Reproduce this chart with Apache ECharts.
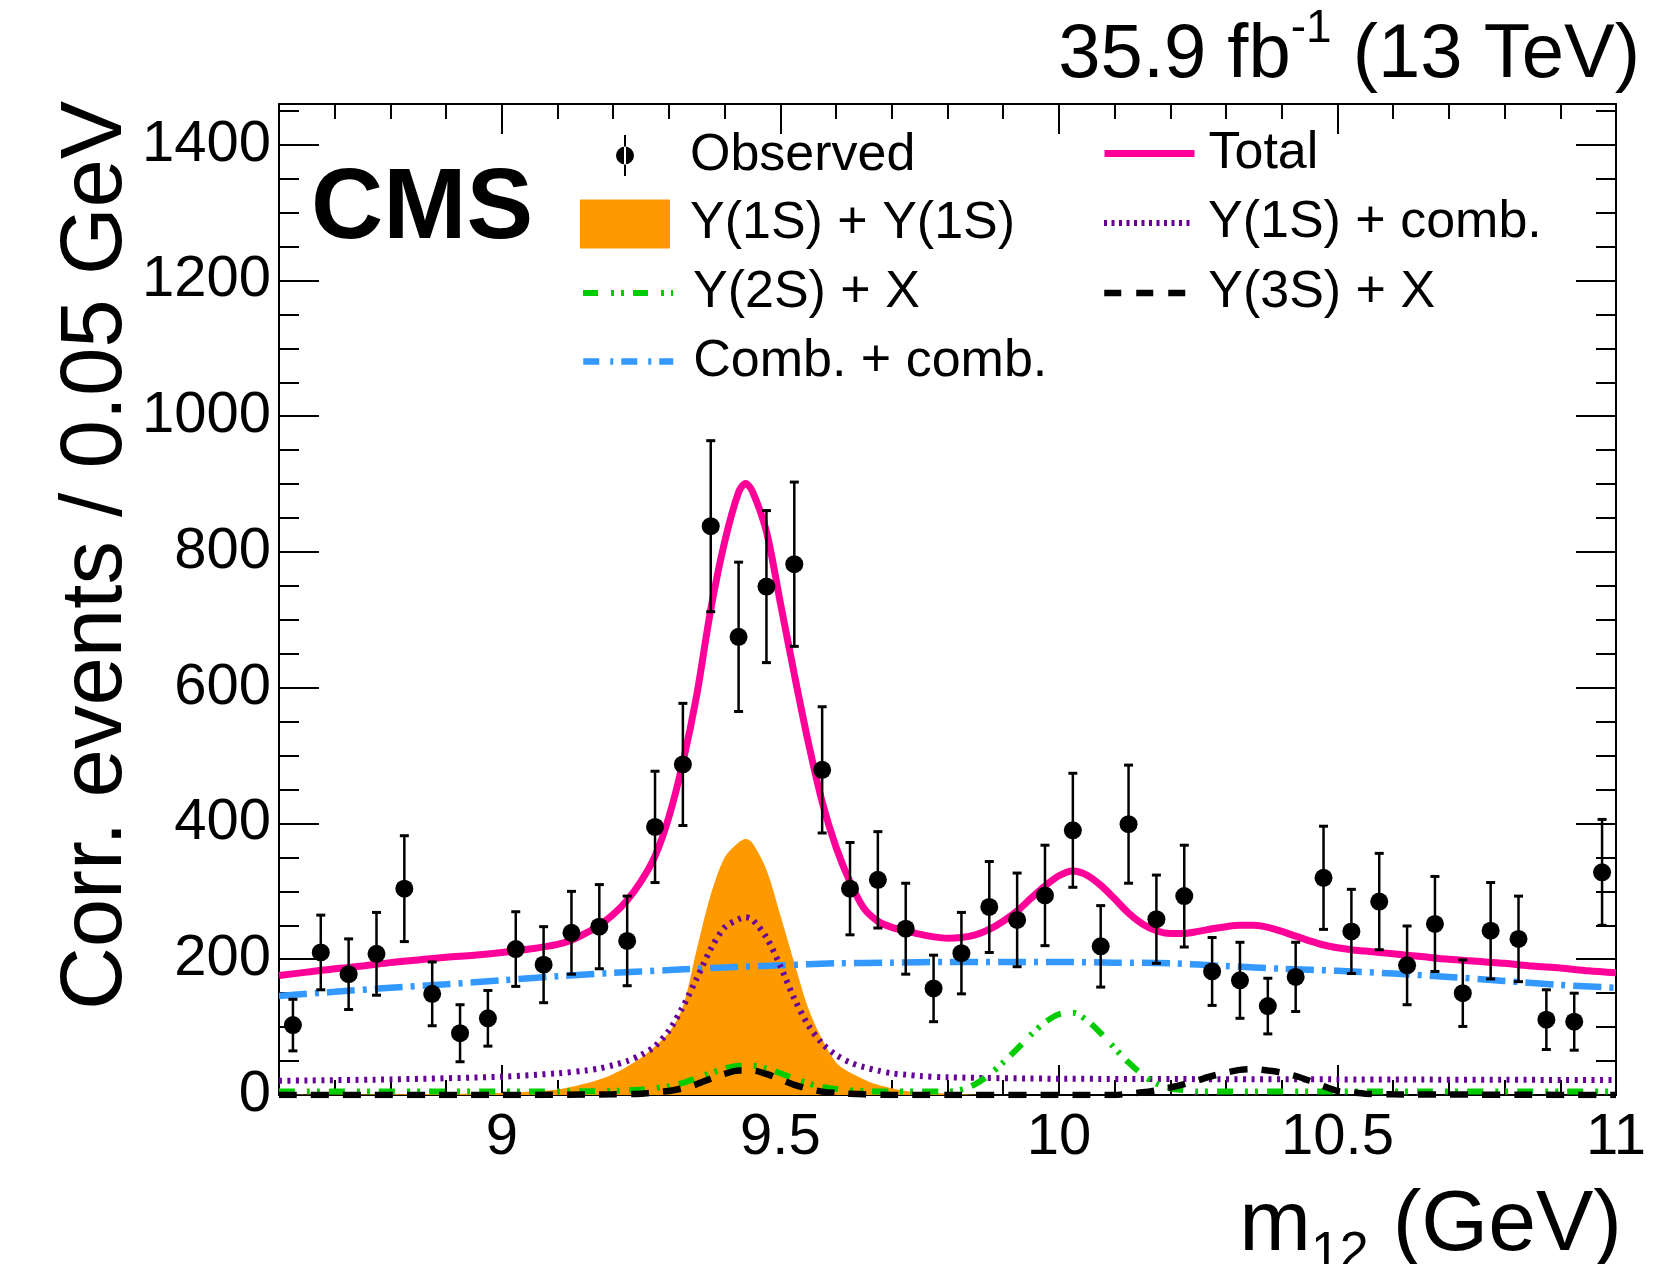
<!DOCTYPE html>
<html>
<head>
<meta charset="utf-8">
<script src="https://cdn.jsdelivr.net/npm/echarts@6/dist/echarts.min.js"></script>
<style>html,body{margin:0;padding:0;background:#fff}#c{width:1676px;height:1264px}</style>
</head>
<body>
<div id="c"></div>
<script>
// ---- data ----
const massBins = [8.625,8.675,8.725,8.775,8.825,8.875,8.925,8.975,9.025,9.075,9.125,9.175,9.225,9.275,9.325,9.375,9.425,9.475,9.525,9.575,9.625,9.675,9.725,9.775,9.825,9.875,9.925,9.975,10.025,10.075,10.125,10.175,10.225,10.275,10.325,10.375,10.425,10.475,10.525,10.575,10.625,10.675,10.725,10.775,10.825,10.875,10.925,10.975];
const observed = [103,210,178,208,304,149,91,113,215,192,239,248,227,395,487,838,675,749,782,479,304,317,245,157,209,277,258,294,390,219,399,259,293,182,169,131,174,320,241,285,191,252,150,242,230,111,108,328];
const observedErr = [38,55,52,61,78,47,42,41,55,56,61,62,66,82,90,126,110,112,121,93,68,71,67,49,60,67,69,74,84,60,87,65,75,50,56,41,51,76,62,71,58,70,49,71,63,44,42,78];

const totalX = [8.60,8.65,8.70,8.75,8.80,8.85,8.90,8.95,9.00,9.05,9.10,9.125,9.15,9.175,9.20,9.225,9.25,9.275,9.30,9.325,9.35,9.375,9.40,9.425,9.4375,9.45,9.475,9.50,9.525,9.55,9.575,9.60,9.625,9.65,9.675,9.70,9.725,9.75,9.775,9.80,9.825,9.85,9.875,9.90,9.925,9.95,9.975,10.00,10.025,10.05,10.075,10.10,10.125,10.15,10.175,10.20,10.225,10.25,10.275,10.30,10.325,10.35,10.375,10.40,10.425,10.45,10.475,10.50,10.525,10.55,10.575,10.60,10.65,10.70,10.75,10.80,10.85,10.90,10.95,11.00];
const totalY = [176,181,186,190,195,199,203,206,210,215,222,228,238,250,266,287,315,352,410,490,590,715,815,888,901,889,830,725,620,520,432,365,314,275,256,247,242,237,233,231,232,236,244,256,271,290,308,323,330,324,309,289,268,252,242,238,238,241,245,248,250,250,247,241,234,227,221,217,214,212,210,208,204,200,197,194,190,187,183,180];

const combX = [8.6,8.7,8.8,8.9,9.0,9.1,9.2,9.3,9.4,9.5,9.6,9.7,9.8,9.9,10.0,10.1,10.2,10.3,10.4,10.5,10.6,10.7,10.8,10.9,11.0];
const combY = [146,152,158,163,169,175,180,184,188,191,194,195,196,196,196,195,194,190,186,183,179,174,168,162,158];

const y1sCombX = [8.6,8.8,9.0,9.1,9.15,9.175,9.20,9.225,9.25,9.275,9.30,9.325,9.35,9.375,9.40,9.425,9.4375,9.45,9.475,9.50,9.525,9.55,9.575,9.60,9.625,9.65,9.675,9.70,9.725,9.75,9.80,10.0,10.5,11.0];
const y1sCombY = [21,23,27,32,36,39,44,50,59,72,95,130,172,215,247,259,262,258,232,190,142,103,76,59,48,41,36,32,30,28,26,24,23,22];

const y1sY1sX = [8.6,8.8,9.0,9.05,9.10,9.125,9.15,9.175,9.20,9.225,9.25,9.275,9.30,9.325,9.35,9.375,9.40,9.425,9.4375,9.45,9.475,9.50,9.525,9.55,9.575,9.60,9.625,9.65,9.675,9.70,9.725,9.75,9.80,9.9,11.0];
const y1sY1sY = [0,1,3,5,8,12,17,23,31,42,55,72,92,130,215,295,350,372,377,371,332,265,195,128,82,48,33,23,15,10,6,4,2,0,0];

const y2sX = [8.6,9.0,9.2,9.25,9.275,9.30,9.325,9.35,9.375,9.40,9.425,9.45,9.475,9.50,9.525,9.55,9.575,9.60,9.625,9.65,9.70,9.80,9.825,9.85,9.875,9.90,9.925,9.95,9.975,10.00,10.025,10.05,10.075,10.10,10.125,10.15,10.175,10.20,10.225,10.25,10.5,11.0];
const y2sY = [5,5,6,8,10,13,18,25,32,39,43,43,39,32,24,17,12,9,7,6,5,5,8,16,30,48,68,89,107,119,121,110,91,69,48,30,17,10,7,5,5,5];

const y3sX = [8.6,9.0,9.2,9.25,9.275,9.30,9.325,9.35,9.375,9.40,9.425,9.45,9.475,9.50,9.525,9.55,9.575,9.60,9.65,9.70,10.10,10.125,10.15,10.175,10.20,10.225,10.25,10.275,10.30,10.325,10.35,10.375,10.40,10.425,10.45,10.475,10.50,10.525,10.55,10.60,11.0];
const y3sY = [0,0,1,2,4,6,10,16,24,31,36,36,31,23,15,9,5,3,1,0,0,2,4,7,11,16,22,28,33,37,38,36,33,28,21,13,6,4,2,1,0];

const xMajorTicks = [9, 9.5, 10, 10.5, 11];
const yMajorTicks = [0, 200, 400, 600, 800, 1000, 1200, 1400];

const FONT = '"Liberation Sans", Arial, Helvetica, sans-serif';
const zip = (a, b) => a.map((v, i) => [v, b[i]]);

const chart = echarts.init(document.getElementById('c'), null, {renderer: 'canvas'});

const X_MIN = 8.6, X_MAX = 11, Y_MIN = 0, Y_MAX = 1460;

function xAxis(pos, major, labels) {
  const ax = {
    type: 'value', position: pos, min: X_MIN, max: X_MAX,
    splitLine: {show: false},
    axisLine: {show: major, onZero: false, lineStyle: {color: '#000', width: 2}},
    axisTick: {show: true, inside: true, length: major ? 30 : 15, lineStyle: {color: '#000', width: 2}},
    axisLabel: {show: labels, fontSize: 58, color: '#000', fontFamily: FONT, margin: 14, formatter: v => String(v)}
  };
  if (major) {
    ax.axisTick.customValues = xMajorTicks;
    ax.axisLabel.customValues = xMajorTicks;
  } else {
    ax.interval = 0.1;
  }
  return ax;
}
function yAxis(pos, major, labels) {
  const ax = {
    type: 'value', position: pos, min: Y_MIN, max: Y_MAX,
    splitLine: {show: false},
    axisLine: {show: major, onZero: false, lineStyle: {color: '#000', width: 2}},
    axisTick: {show: true, inside: true, length: major ? 40 : 20, lineStyle: {color: '#000', width: 2}},
    axisLabel: {show: labels, fontSize: 58, color: '#000', fontFamily: FONT, margin: 8, formatter: v => String(v)}
  };
  if (major) {
    ax.axisTick.customValues = yMajorTicks;
    ax.axisLabel.customValues = yMajorTicks;
  } else {
    ax.interval = 50;
  }
  return ax;
}

function legendItem(name, left, top, h, pad, icon, dash, extra) {
  const d = {name: name};
  if (icon) d.icon = icon;
  const lg = {
    data: [d], left: left, top: top, orient: 'horizontal',
    itemWidth: 90, itemHeight: h, padding: 0, selectedMode: false,
    lineStyle: {width: 'inherit', type: dash || 'inherit'},
    itemStyle: icon ? {} : {opacity: 0},
    textStyle: {fontSize: 52, color: '#000', fontFamily: FONT, padding: [0, 0, 0, pad]}
  };
  return Object.assign(lg, extra || {});
}

const obsIcon = 'path://M0,20.5h0.01v0.01h-0.01z M89.99,20.5h0.01v0.01h-0.01z M44,0h2v41h-2z M36,20.5a9,9 0 1,0 18,0a9,9 0 1,0 -18,0z';

const option = {
  animation: false,
  backgroundColor: '#fff',
  grid: {left: 279, right: 60, top: 104, bottom: 169, containLabel: false},
  xAxis: [xAxis('bottom', true, true), xAxis('bottom', false, false), xAxis('top', true, false), xAxis('top', false, false)],
  yAxis: [yAxis('left', true, true), yAxis('left', false, false), yAxis('right', true, false), yAxis('right', false, false)],
  legend: [
    legendItem('Observed', 580, 129.5, 41, 15, obsIcon, null, {symbolKeepAspect: false}),
    legendItem('Y(1S) + Y(1S)', 580, 198, 49, 15, 'rect'),
    legendItem('Y(2S) + X', 580, 267, 49, 15, null, [15, 13, 3, 7, 3, 9]),
    legendItem('Comb. + comb.', 580, 335.5, 49, 15, null, [16, 11, 3, 8]),
    legendItem('Total', 1101, 127.5, 49, 9),
    legendItem('Y(1S) + comb.', 1101, 197, 49, 9, null, [3, 4.5]),
    legendItem('Y(3S) + X', 1101, 267, 49, 9, null, [17, 15])
  ],
  graphic: [
    {type: 'text', x: 311, y: 210, style: {text: 'CMS', font: 'bold 100px ' + FONT, fill: '#000', textAlign: 'left', textVerticalAlign: 'middle'}},
    {type: 'text', x: 1640, y: 6, style: {
      text: '{a|35.9 fb}{s|-1}{a| (13 TeV)}', textAlign: 'right', textVerticalAlign: 'top',
      rich: {a: {fontSize: 76, lineHeight: 100, fontFamily: FONT, color: '#000'},
             s: {fontSize: 46, lineHeight: 46, fontFamily: FONT, verticalAlign: 'top', color: '#000'}}}},
    {type: 'text', x: 1622, y: 1226, style: {
      text: '{a|m}{b|12}{a| (GeV)}', textAlign: 'right', textVerticalAlign: 'middle',
      rich: {a: {fontSize: 86, lineHeight: 100, fontFamily: FONT, color: '#000'},
             b: {fontSize: 52, lineHeight: 52, fontFamily: FONT, verticalAlign: 'top', color: '#000', padding: [52, 0, 0, 0]}}}},
    {type: 'text', x: 97, y: 101, rotation: Math.PI / 2, style: {
      text: 'Corr. events / 0.05 GeV', font: '87px ' + FONT, fill: '#000', textAlign: 'right', textVerticalAlign: 'middle'}}
  ],
  series: [
    {name: 'Y(1S) + Y(1S)', type: 'line', data: zip(y1sY1sX, y1sY1sY), smooth: 0.3, symbol: 'none',
     color: '#ff9900', lineStyle: {width: 0, color: '#ff9900'}, areaStyle: {color: '#ff9900', opacity: 1}, z: 1},
    {name: 'Comb. + comb.', type: 'line', data: zip(combX, combY), smooth: 0.3, symbol: 'none',
     color: '#3399ff', lineStyle: {width: 6.5, color: '#3399ff', type: [28, 8, 4, 8]}, z: 2},
    {name: 'Y(1S) + comb.', type: 'line', data: zip(y1sCombX, y1sCombY), smooth: 0.3, symbol: 'none',
     color: '#660099', lineStyle: {width: 6, color: '#660099', type: [3, 5.5]}, z: 3},
    {name: 'Y(2S) + X', type: 'line', data: zip(y2sX, y2sY), smooth: 0.3, symbol: 'none',
     color: '#00cc00', lineStyle: {width: 6, color: '#00cc00', type: [16, 12, 3, 7, 3, 9]}, z: 4},
    {name: 'Y(3S) + X', type: 'line', data: zip(y3sX, y3sY), smooth: 0.3, symbol: 'none',
     color: '#000000', lineStyle: {width: 6.5, color: '#000000', type: [18, 14]}, z: 5},
    {name: 'Total', type: 'line', data: zip(totalX, totalY), smooth: 0.3, symbol: 'none',
     color: '#ff0099', lineStyle: {width: 7, color: '#ff0099'}, z: 6},
    {name: 'Observed errors', type: 'custom', z: 7,
     data: massBins.map((x, i) => [x, observed[i], observedErr[i]]),
     renderItem: function (params, api) {
       const x = api.value(0), y = api.value(1), e = api.value(2);
       const top = api.coord([x, y + e]);
       const bot = api.coord([x, y - e]);
       return {type: 'group', children: [
         {type: 'line', shape: {x1: top[0], y1: top[1], x2: bot[0], y2: bot[1]}, style: {stroke: '#000', lineWidth: 2.5}},
         {type: 'line', shape: {x1: top[0] - 4.5, y1: top[1], x2: top[0] + 4.5, y2: top[1]}, style: {stroke: '#000', lineWidth: 3}},
         {type: 'line', shape: {x1: bot[0] - 4.5, y1: bot[1], x2: bot[0] + 4.5, y2: bot[1]}, style: {stroke: '#000', lineWidth: 3}}
       ]};
     }},
    {name: 'Observed', type: 'scatter', data: zip(massBins, observed), symbol: 'circle', symbolSize: 18,
     color: '#000', itemStyle: {color: '#000', opacity: 1}, z: 8}
  ]
};
chart.setOption(option);
</script>
</body>
</html>
